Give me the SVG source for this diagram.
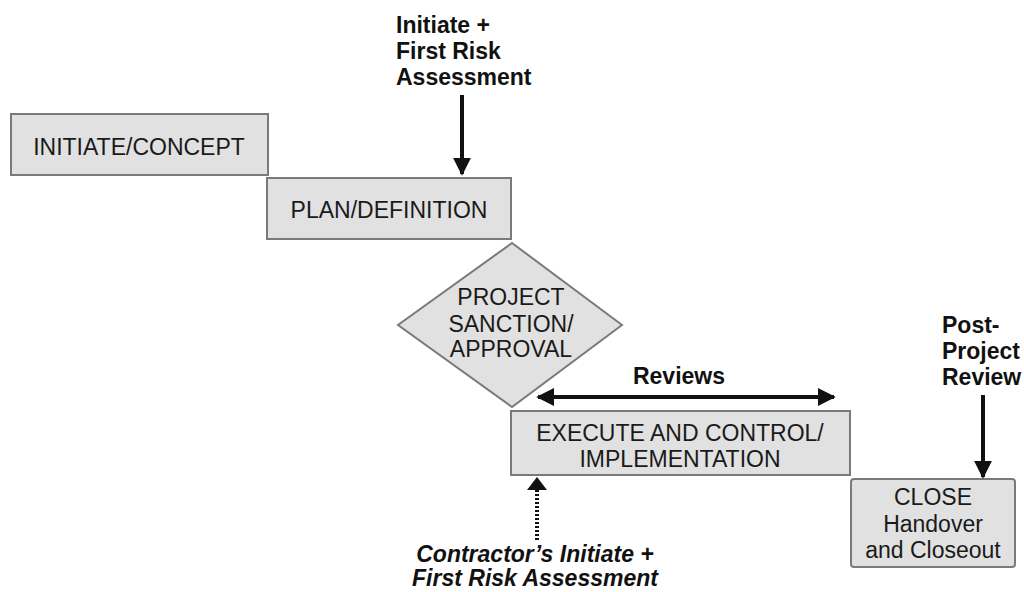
<svg xmlns="http://www.w3.org/2000/svg" width="1024" height="592" viewBox="0 0 1024 592">
  <style>
    .box { fill: #e1e1e1; stroke: #7a7a7a; stroke-width: 2; }
    .lbl { font-family: "Liberation Sans", Arial, sans-serif; font-size: 23px; fill: #1a1a1a; text-anchor: middle; }
    .note { font-family: "Liberation Sans", Arial, sans-serif; font-size: 23px; font-weight: bold; fill: #111; }
    .ital { font-style: italic; text-anchor: middle; }
    .arrow { stroke: #111; stroke-width: 4; fill: none; }
    .dotted { stroke: #111; stroke-width: 4; fill: none; stroke-dasharray: 2 2; }
  </style>
  <defs>
    <marker id="head" viewBox="0 0 10 10" refX="9" refY="5" markerWidth="4.5" markerHeight="5" orient="auto-start-reverse" markerUnits="strokeWidth">
      <path d="M0,0 L10,5 L0,10 Z" fill="#111"/>
    </marker>
  </defs>

  <rect width="1024" height="592" fill="#ffffff"/>

  <g id="initiate-concept">
    <rect class="box" x="11" y="114" width="257" height="61"/>
    <text class="lbl" x="139" y="155">INITIATE/CONCEPT</text>
  </g>

  <g id="plan-definition">
    <rect class="box" x="267" y="178" width="244" height="61"/>
    <text class="lbl" x="389" y="218">PLAN/DEFINITION</text>
  </g>

  <g id="project-sanction">
    <polygon class="box" points="512,243 622,325 512,407 398,325"/>
    <text class="lbl" x="511" y="305">PROJECT</text>
    <text class="lbl" x="511" y="332">SANCTION/</text>
    <text class="lbl" x="511" y="357">APPROVAL</text>
  </g>

  <g id="execute-control">
    <rect class="box" x="511" y="411" width="339" height="64"/>
    <text class="lbl" x="680" y="441">EXECUTE AND CONTROL/</text>
    <text class="lbl" x="680" y="467">IMPLEMENTATION</text>
  </g>

  <g id="close">
    <rect class="box" x="851" y="479" width="164" height="88" rx="3"/>
    <text class="lbl" x="933" y="505">CLOSE</text>
    <text class="lbl" x="933" y="532">Handover</text>
    <text class="lbl" x="933" y="558">and Closeout</text>
  </g>

  <g id="annotations">
    <text class="note" x="396" y="33">Initiate +</text>
    <text class="note" x="396" y="59">First Risk</text>
    <text class="note" x="396" y="85">Assessment</text>
    <text class="note" x="679" y="384" text-anchor="middle">Reviews</text>
    <text class="note" x="942" y="333">Post-</text>
    <text class="note" x="942" y="359">Project</text>
    <text class="note" x="942" y="385">Review</text>
    <text class="note ital" x="535" y="562">Contractor’s Initiate +</text>
    <text class="note ital" x="535" y="586">First Risk Assessment</text>
  </g>

  <g id="connectors">
    <line class="arrow" x1="462" y1="95" x2="462" y2="174" marker-end="url(#head)"/>
    <line class="arrow" x1="538" y1="397" x2="834" y2="397" marker-start="url(#head)" marker-end="url(#head)"/>
    <line class="arrow" x1="983" y1="395" x2="983" y2="477" marker-end="url(#head)"/>
    <line class="dotted" x1="537" y1="540" x2="537" y2="490"/>
    <path d="M527,490 L537,477 L547,490 Z" fill="#111"/>
  </g>
</svg>
